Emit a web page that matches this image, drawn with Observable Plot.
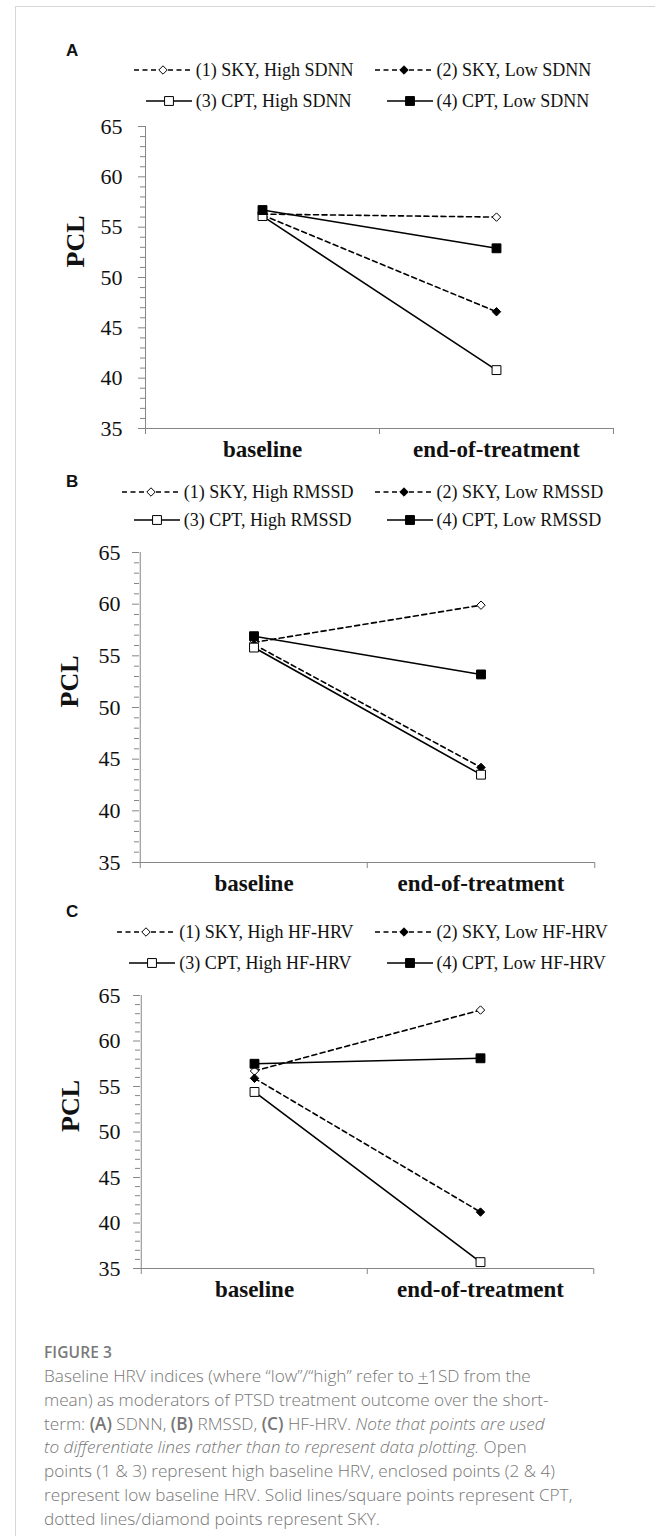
<!DOCTYPE html>
<html><head><meta charset="utf-8">
<script src="https://cdn.jsdelivr.net/npm/d3@7"></script>
<script src="https://cdn.jsdelivr.net/npm/@observablehq/plot@0.6"></script>
<style>
body{margin:0;background:#fff;}
#page{position:relative;width:655px;height:1536px;overflow:hidden;background:#fff;}
.frame-top{position:absolute;left:15px;top:6px;width:640px;height:0;border-top:1px solid #d6d6d6;}
.frame-left{position:absolute;left:15px;top:6px;width:0;height:1530px;border-left:1px solid #d6d6d6;}
.letter{position:absolute;font-family:Arial,"Liberation Sans",sans-serif;font-weight:bold;font-size:17px;line-height:20px;color:#111;}
.legend-wrap{position:absolute;width:655px;display:flex;justify-content:center;}
.legend{display:grid;grid-template-columns:auto auto;column-gap:20px;}
.legend-item{display:flex;align-items:center;font-family:"Times New Roman","Liberation Serif",serif;font-size:18px;white-space:nowrap;color:#111;}
.legend-item svg{flex:none;margin-right:3px;}
.chart{position:absolute;left:0;}
.chart svg{overflow:visible;}
.caption{position:absolute;left:44px;width:605px;font-family:"Open Sans","Noto Sans",sans-serif;color:#767676;}
.caption .fig{font-size:15.5px;font-weight:600;line-height:24px;letter-spacing:0.1px;color:#7a7a7a;}
.caption .body{font-size:17.2px;font-weight:300;line-height:23.8px;white-space:nowrap;}
</style>
</head><body>
<div id="page">
  <div class="frame-top"></div>
  <div class="frame-left"></div>
</div>
<script>
// ---- data ----
const categories = ["baseline", "end-of-treatment"];
const treatments = ["SKY", "SKY", "CPT", "CPT"];
const levels = ["High", "Low", "High", "Low"];
const panelLetters = ["A", "B", "C"];
const hrvIndices = ["SDNN", "RMSSD", "HF-HRV"];

const sdnnBaseline  = [56.3, 56.2, 56.1, 56.7];
const sdnnEnd       = [56.0, 46.6, 40.8, 52.9];
const rmssdBaseline = [56.3, 56.1, 55.8, 56.9];
const rmssdEnd      = [59.9, 44.2, 43.5, 53.2];
const hfBaseline    = [56.7, 55.9, 54.4, 57.5];
const hfEnd         = [63.4, 41.2, 35.7, 58.1];

const yDomain = [35, 65];
const yTicks = [35, 40, 45, 50, 55, 60, 65];
const yMinorTicks = [36,37,38,39,41,42,43,44,46,47,48,49,51,52,53,54,56,57,58,59,61,62,63,64];

const baselineByPanel = [sdnnBaseline, rmssdBaseline, hfBaseline];
const endByPanel = [sdnnEnd, rmssdEnd, hfEnd];

// ---- layout (pixels) ----
const layout = [
  {letterY: 51,  row1: 70,  rowGap: 31, top: 126, plotH: 302, ml: 145, mr: 42, pclDy: -10, tickDx: -23},
  {letterY: 482, row1: 492, rowGap: 28, top: 552, plotH: 310, ml: 139, mr: 61, pclDy: 0, tickDx: -19},
  {letterY: 912, row1: 932, rowGap: 31, top: 995, plotH: 273, ml: 140, mr: 62, pclDy: 0, tickDx: -20}
];
const W = 655, MT = 12, MB = 50;
const gray = "#868686";
const serif = "'Times New Roman','Liberation Serif',serif";

const page = document.getElementById("page");

function swatch(treatment, level) {
  const dashed = treatment === "SKY";
  const w = 60, h = 16, cy = 8;
  const x1 = dashed ? 1 : 13, x2 = 59, cx = (x1 + x2) / 2;
  const sym = dashed ? d3.symbolDiamond2 : d3.symbolSquare;
  const size = dashed ? Math.PI * 3.8 * 3.8 : Math.PI * 5 * 5;
  const fill = level === "High" ? "#fff" : "#000";
  return `<svg width="${w}" height="${h}"><line x1="${x1}" y1="${cy}" x2="${x2}" y2="${cy}" stroke="#000" stroke-width="1.6" ${dashed ? 'stroke-dasharray="5,3.5"' : ''}/><path d="${d3.symbol(sym, size)()}" transform="translate(${cx},${cy})" fill="${fill}" stroke="#000" stroke-width="1"/></svg>`;
}

panelLetters.forEach((letter, p) => {
  const L = layout[p];
  const idx = hrvIndices[p];

  const rows = [];
  treatments.forEach((t, s) => {
    const series = `(${s + 1}) ${t}, ${levels[s]} ${idx}`;
    rows.push({series, treatment: t, level: levels[s], category: categories[0], value: baselineByPanel[p][s]});
    rows.push({series, treatment: t, level: levels[s], category: categories[1], value: endByPanel[p][s]});
  });

  // letter
  const lt = document.createElement("div");
  lt.className = "letter";
  lt.style.left = "66px";
  lt.style.top = (L.letterY - 10) + "px";
  lt.textContent = letter;
  page.appendChild(lt);

  // legend
  const wrap = document.createElement("div");
  wrap.className = "legend-wrap";
  wrap.style.left = (362 - W / 2) + "px";
  wrap.style.top = (L.row1 - L.rowGap / 2) + "px";
  const grid = document.createElement("div");
  grid.className = "legend";
  grid.style.gridAutoRows = L.rowGap + "px";
  treatments.forEach((t, s) => {
    const it = document.createElement("div");
    it.className = "legend-item";
    it.innerHTML = swatch(t, levels[s]) + `<span>(${s + 1}) ${t}, ${levels[s]} ${idx}</span>`;
    grid.appendChild(it);
  });
  wrap.appendChild(grid);

  // chart
  const plotW = W - L.ml - L.mr;
  const bw = plotW / categories.length;
  const sky = rows.filter(d => d.treatment === "SKY");
  const cpt = rows.filter(d => d.treatment === "CPT");
  const chart = Plot.plot({
    width: W,
    height: MT + L.plotH + MB,
    marginLeft: L.ml, marginRight: L.mr, marginTop: MT, marginBottom: MB,
    x: {type: "band", domain: categories, padding: 0, axis: null},
    y: {domain: yDomain, axis: null},
    style: {background: "transparent", overflow: "visible"},
    marks: [
      Plot.ruleY(yMinorTicks, {y: d => d, stroke: gray, insetLeft: -5, insetRight: plotW}),
      Plot.ruleY(yTicks, {y: d => d, stroke: gray, insetLeft: -7, insetRight: plotW}),
      Plot.ruleY([yDomain[0]], {y: d => d, stroke: gray}),
      Plot.ruleX([categories[0]], {x: d => d, dx: -bw / 2, y1: yDomain[0], y2: yDomain[1], stroke: gray}),
      Plot.ruleX(categories, {x: d => d, dx: -bw / 2, y1: yDomain[0], y2: yDomain[0], insetBottom: -6, stroke: gray}),
      Plot.ruleX([categories[categories.length - 1]], {x: d => d, dx: bw / 2, y1: yDomain[0], y2: yDomain[0], insetBottom: -6, stroke: gray}),
      Plot.line(sky, {x: "category", y: "value", z: "series", stroke: "#000", strokeWidth: 1.6, strokeDasharray: "5,3.5"}),
      Plot.line(cpt, {x: "category", y: "value", z: "series", stroke: "#000", strokeWidth: 1.6}),
      Plot.dot(sky.filter(d => d.level === "High"), {x: "category", y: "value", symbol: "diamond2", r: 3.8, fill: "#fff", stroke: "#000", strokeWidth: 1}),
      Plot.dot(sky.filter(d => d.level === "Low"), {x: "category", y: "value", symbol: "diamond2", r: 3.8, fill: "#000", stroke: "#000", strokeWidth: 1}),
      Plot.dot(cpt.filter(d => d.level === "High"), {x: "category", y: "value", symbol: "square", r: 5, fill: "#fff", stroke: "#000", strokeWidth: 1}),
      Plot.dot(cpt.filter(d => d.level === "Low"), {x: "category", y: "value", symbol: "square", r: 5, fill: "#000", stroke: "#000", strokeWidth: 1}),
      Plot.text(yTicks, {y: d => d, text: d => String(d), frameAnchor: "left", textAnchor: "end", dx: L.tickDx, fontSize: 22, fontFamily: serif, fill: "#111"}),
      Plot.text(["PCL"], {text: d => d, frameAnchor: "left", dx: -70, dy: L.pclDy, rotate: -90, fontSize: 26, fontWeight: "bold", fontFamily: serif, fill: "#111"}),
      Plot.text(categories, {x: d => d, text: d => d, frameAnchor: "bottom", dy: 28, fontSize: 23, fontWeight: "bold", fontFamily: serif, fill: "#111"})
    ]
  });
  const holder = document.createElement("div");
  holder.className = "chart";
  holder.style.top = (L.top - MT) + "px";
  holder.appendChild(chart);
  page.appendChild(holder);
  page.appendChild(wrap);
});

// caption
const cap = document.createElement("div");
cap.className = "caption";
cap.style.top = "1340px";
cap.innerHTML = `<div class="fig">FIGURE 3</div>
<div class="body">Baseline HRV indices (where “low”/“high” refer to <span style="text-decoration:underline">+</span>1SD from the<br>
mean) as moderators of PTSD treatment outcome over the short-<br>
term: <b style="font-weight:600">(A)</b> SDNN, <b style="font-weight:600">(B)</b> RMSSD, <b style="font-weight:600">(C)</b> HF-HRV. <i>Note that points are used</i><br>
<i>to differentiate lines rather than to represent data plotting.</i> Open<br>
points (1 &amp; 3) represent high baseline HRV, enclosed points (2 &amp; 4)<br>
represent low baseline HRV. Solid lines/square points represent CPT,<br>
dotted lines/diamond points represent SKY.</div>`;
page.appendChild(cap);
</script>
</body></html>
